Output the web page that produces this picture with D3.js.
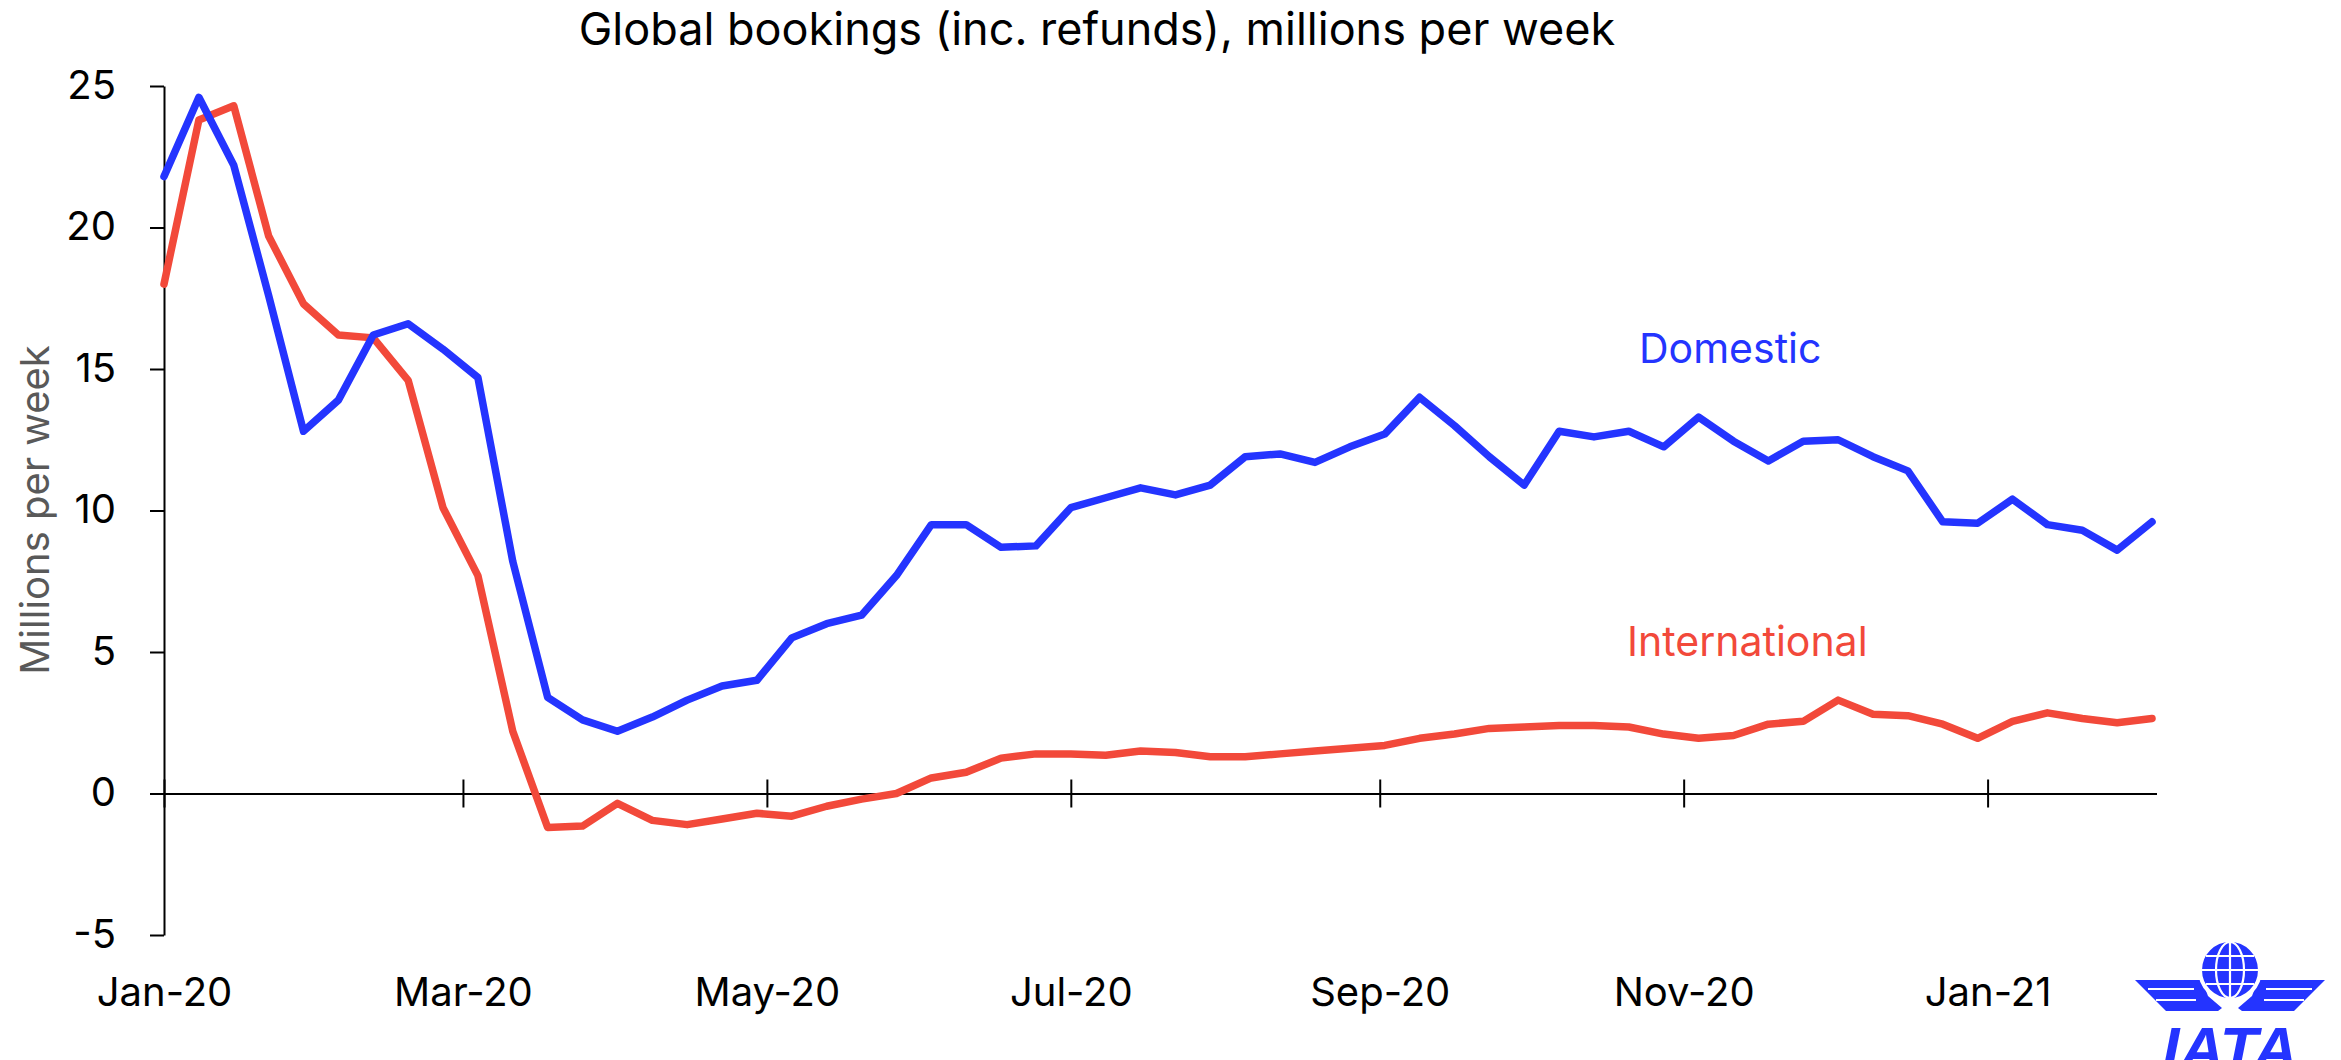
<!DOCTYPE html>
<meta charset="utf-8">
<style>
  body { margin: 0; background: #fff; }
  text { font-family: Inter, "Liberation Sans", sans-serif; }
  .line { fill: none; stroke-width: 7.5px; stroke-linejoin: round; stroke-linecap: round; }
  .axis path, .axis line { stroke: #000; stroke-width: 2px; }
  .axis text { font-size: 40px; fill: #000; }
</style>
<body>
<script src="https://d3js.org/d3.v7.min.js"></script>
<script>
// weekly dates (week starting)
var weeks = ["2020-01-01","2020-01-08","2020-01-15","2020-01-22","2020-01-29",
  "2020-02-05","2020-02-12","2020-02-19","2020-02-26",
  "2020-03-04","2020-03-11","2020-03-18","2020-03-25",
  "2020-04-01","2020-04-08","2020-04-15","2020-04-22","2020-04-29",
  "2020-05-06","2020-05-13","2020-05-20","2020-05-27",
  "2020-06-03","2020-06-10","2020-06-17","2020-06-24",
  "2020-07-01","2020-07-08","2020-07-15","2020-07-22","2020-07-29",
  "2020-08-05","2020-08-12","2020-08-19","2020-08-26",
  "2020-09-02","2020-09-09","2020-09-16","2020-09-23","2020-09-30",
  "2020-10-07","2020-10-14","2020-10-21","2020-10-28",
  "2020-11-04","2020-11-11","2020-11-18","2020-11-25",
  "2020-12-02","2020-12-09","2020-12-16","2020-12-23","2020-12-30",
  "2021-01-06","2021-01-13","2021-01-20","2021-01-27","2021-02-03"];

var domestic = [21.8, 24.6, 22.2, 17.6, 12.8, 13.9, 16.2, 16.6, 15.7, 14.7,
  8.2, 3.4, 2.6, 2.2, 2.7, 3.3, 3.8, 4.0, 5.5, 6.0,
  6.3, 7.7, 9.5, 9.5, 8.7, 8.75, 10.1, 10.45, 10.8, 10.55,
  10.9, 11.9, 12.0, 11.7, 12.25, 12.7, 14.0, 13.0, 11.9, 10.9,
  12.8, 12.6, 12.8, 12.25, 13.3, 12.45, 11.75, 12.45, 12.5, 11.9,
  11.4, 9.6, 9.55, 10.4, 9.5, 9.3, 8.6, 9.6];

var international = [18.0, 23.8, 24.3, 19.7, 17.3, 16.2, 16.1, 14.6, 10.1, 7.7,
  2.2, -1.2, -1.15, -0.35, -0.95, -1.1, -0.9, -0.7, -0.8, -0.45,
  -0.2, 0.0, 0.55, 0.75, 1.25, 1.4, 1.4, 1.35, 1.5, 1.45,
  1.3, 1.3, 1.4, 1.5, 1.6, 1.7, 1.95, 2.1, 2.3, 2.35,
  2.4, 2.4, 2.35, 2.1, 1.95, 2.05, 2.45, 2.55, 3.3, 2.8,
  2.75, 2.45, 1.95, 2.55, 2.85, 2.65, 2.5, 2.65];

var tickDates = ["2020-01-01","2020-03-01","2020-05-01","2020-07-01","2020-09-01","2020-11-01","2021-01-01"];
var yTicks = [-5, 0, 5, 10, 15, 20, 25];

var W = 2341, H = 1060;
var parse = d3.utcParse("%Y-%m-%d");

var svg = d3.select("body").append("svg")
    .attr("width", W)
    .attr("height", H);

var x = d3.scaleUtc()
    .domain([parse("2020-01-01"), parse("2021-02-04")])
    .range([164, 2157]);
var y = d3.scaleLinear().domain([-5, 25]).range([935, 86]);

// y axis (plain hyphen for negatives, as in the original)
svg.append("g")
    .attr("class", "axis")
    .attr("transform", "translate(164,0)")
    .call(d3.axisLeft(y).tickValues(yTicks).tickFormat(function(d) { return String(d); })
      .tickSize(14).tickPadding(34).tickSizeOuter(0))
  .call(function(g) { g.selectAll("text").attr("dy", "0.3em"); });

// x axis sits at zero
var xAxis = svg.append("g")
    .attr("class", "axis")
    .attr("transform", "translate(0," + y(0) + ")")
    .call(d3.axisBottom(x)
      .tickValues(tickDates.map(parse))
      .tickFormat(d3.utcFormat("%b-%y"))
      .tickSize(14)
      .tickSizeOuter(0));
xAxis.select(".domain").attr("d", "M150,0.5H2157");
xAxis.selectAll(".tick line").attr("y1", -14);
xAxis.selectAll(".tick text").attr("y", 0).attr("dy", 0)
    .attr("transform", "translate(0," + (1006 - y(0)) + ")");

// lines
var line = function(vals) {
  return d3.line()
    .x(function(d, i) { return x(parse(weeks[i])); })
    .y(function(d) { return y(d); })(vals);
};
svg.append("path").attr("class", "line").attr("stroke", "#F2493A").attr("d", line(international));
svg.append("path").attr("class", "line").attr("stroke", "#2434FF").attr("d", line(domestic));

// labels
svg.append("text")
    .attr("x", 1097).attr("y", 45)
    .attr("text-anchor", "middle")
    .style("font-size", "45px")
    .text("Global bookings (inc. refunds), millions per week");

svg.append("text")
    .attr("transform", "translate(49,510) rotate(-90)")
    .attr("text-anchor", "middle")
    .style("font-size", "40px")
    .style("fill", "#595959")
    .text("Millions per week");

svg.append("text")
    .attr("x", 1639).attr("y", 363)
    .style("font-size", "41px")
    .style("fill", "#2434FF")
    .text("Domestic");

svg.append("text")
    .attr("x", 1627).attr("y", 656)
    .style("font-size", "41px")
    .style("fill", "#F2493A")
    .text("International");

// IATA logo
var logo = svg.append("g").attr("transform", "translate(2230,970)").style("fill", "#2434FF");
[1, -1].forEach(function(s) {
  var w = logo.append("g").attr("transform", "scale(" + s + ",1)");
  w.append("path").attr("d", "M-95,10 L-28,10 L-22,26 L-8,38 L-12,41 L-64,41 Z");
  w.append("path").attr("d", "M-82,19 L-36,19 M-74,30 L-34,30")
      .style("stroke", "#fff").style("stroke-width", 2);
});
logo.append("circle").attr("r", 30).style("stroke", "#fff").style("stroke-width", 4);
var globe = logo.append("g").style("fill", "none").style("stroke", "#fff").style("stroke-width", 2.2);
globe.append("ellipse").attr("rx", 14).attr("ry", 28);
globe.append("path").attr("d", "M0,-28V28 M-28,0H28 M-24,-14H24 M-24,14H24");
logo.append("text")
    .attr("x", 0).attr("y", 100)
    .attr("text-anchor", "middle")
    .style("font-family", "'Liberation Sans', Arial, sans-serif")
    .style("font-weight", "bold")
    .style("font-style", "italic")
    .style("font-size", "62px")
    .style("fill", "#2434FF")
    .text("IATA");
</script>
</body>
